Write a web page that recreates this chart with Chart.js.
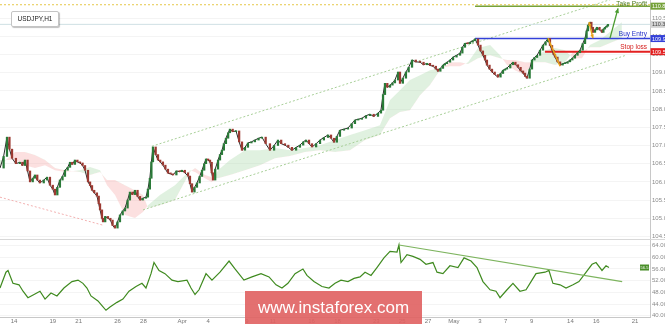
<!DOCTYPE html>
<html>
<head>
<meta charset="utf-8">
<script src="https://cdn.jsdelivr.net/npm/chart.js@4.4.1/dist/chart.umd.min.js"></script>
<style>
html, body { margin: 0; padding: 0; background: #fff; }
#wrap { position: relative; width: 665px; height: 324px; overflow: hidden; font-family: "Liberation Sans", Arial, sans-serif; }
#main { position: absolute; left: 0; top: 0; }
#osc { position: absolute; left: 0; top: 239px; }
#sep { position: absolute; left: 0; top: 239px; width: 665px; height: 1px; background: #d8d8d8; }
#title {
    position: absolute; left: 11px; top: 11px; width: 46px; height: 14px;
    border: 1px solid #c4c4c4; border-radius: 2px; background: #fff;
    box-shadow: 1px 1px 1px rgba(0,0,0,0.25);
    font-size: 6.5px; line-height: 14px; text-align: center; color: #222;
}
#wm {
    position: absolute; left: 245px; top: 291px; width: 177px; height: 33px;
    background: rgba(224, 96, 96, 0.9); color: #fff;
    font-size: 17px; line-height: 33px; text-align: center;
}
</style>
</head>
<body>
<div id="wrap">
    <canvas id="main" width="665" height="239"></canvas>
    <canvas id="osc" width="665" height="85"></canvas>
    <div id="sep"></div>
    <div id="title">USDJPY,H1</div>
    <div id="wm">www.instaforex.com</div>
</div>
<script>
// time axis is in trading days counted from 14 Mar (H1 chart)
const dayTicks  = [0, 3, 5, 8, 10, 13, 15, 18, 20, 23, 25, 28, 30, 32, 34, 36, 38, 40, 43, 45, 48];
const dayLabels = ['14', '19', '21', '26', '28', 'Apr', '4', '9', '11', '16', '18', '23', '25', '27', 'May', '3', '7', '9', '14', '16', '21'];
const priceTicks = [104.5, 105, 105.5, 106, 106.5, 107, 107.5, 108, 108.5, 109, 109.5, 110, 110.5];
const rsiTicks = [40, 44, 48, 52, 56, 60, 64];

// closing prices
const priceDays = [
    -1.08, -0.80, -0.54, -0.35, -0.15, 0.15, 0.46, 0.65, 0.85, 1.05,
    1.24, 1.45, 1.62, 1.80, 2.00, 2.30, 2.55, 2.78, 3.00, 3.17,
    3.35, 3.55, 3.75, 3.94, 4.15, 4.33, 4.50, 4.71, 4.90, 5.10,
    5.30, 5.49, 5.72, 5.88, 6.03, 6.20, 6.41, 6.55, 6.65, 6.80,
    6.88, 7.05, 7.26, 7.45, 7.62, 7.80, 8.00, 8.19, 8.40, 8.58,
    8.78, 8.96, 9.15, 9.35, 9.55, 9.74, 9.95, 10.20, 10.35, 10.50,
    10.62, 10.74, 10.95, 11.13, 11.30, 11.51, 11.70, 11.90, 12.10, 12.29,
    12.55, 12.80, 12.98, 13.20, 13.45, 13.60, 13.76, 13.95, 14.14, 14.35,
    14.53, 14.70, 14.84, 15.00, 15.15, 15.28, 15.38, 15.55, 15.77, 15.92,
    16.07, 16.22, 16.38, 16.55, 16.69, 16.90, 17.16, 17.40, 17.62, 17.85,
    18.08, 18.35, 18.62, 18.90, 19.16, 19.45, 19.78, 20.10, 20.40, 20.65,
    20.94, 21.20, 21.48, 21.80, 22.10, 22.35, 22.57, 22.80, 23.03, 23.35,
    23.65, 23.95, 24.27, 24.50, 24.73, 24.95, 25.19, 25.50, 25.81, 26.10,
    26.35, 26.60, 26.89, 27.20, 27.51, 27.80, 28.13, 28.36, 28.52, 28.67,
    28.85, 29.06, 29.25, 29.44, 29.68, 29.83, 30.05, 30.29, 30.50, 30.76,
    31.05, 31.38, 31.65, 31.92, 32.15, 32.38, 32.60, 32.77, 32.95, 33.15,
    33.30, 33.46, 33.70, 33.93, 34.20, 34.47, 34.65, 34.85, 35.05, 35.24,
    35.45, 35.63, 35.86, 36.05, 36.24, 36.40, 36.55, 36.75, 36.94, 37.15,
    37.40, 37.60, 37.79, 37.95, 38.10, 38.35, 38.56, 38.75, 38.95, 39.15,
    39.34, 39.50, 39.64, 39.85, 40.03, 40.22, 40.42, 40.65, 40.88, 41.08,
    41.27, 41.42, 41.58, 41.70, 41.81, 42.00, 42.20, 42.40, 42.58, 42.78,
    42.97, 43.15, 43.35, 43.55, 43.74, 43.95, 44.13, 44.25, 44.36, 44.51,
    44.62, 44.74, 44.90, 45.05, 45.25, 45.44, 45.55, 45.67, 45.80, 45.90
];
const priceClose = [
    106.38, 106.70, 107.23, 106.90, 106.65, 106.50, 106.54, 106.45, 106.60, 106.30,
    106.00, 106.10, 106.19, 106.05, 105.97, 106.05, 106.13, 105.91, 105.80, 105.64,
    105.85, 106.05, 106.15, 106.32, 106.40, 106.54, 106.48, 106.60, 106.55, 106.52,
    106.45, 106.32, 106.00, 105.90, 105.77, 105.70, 105.61, 105.40, 105.23, 105.00,
    104.90, 105.05, 105.00, 104.95, 104.80, 104.73, 104.90, 105.09, 105.20, 105.28,
    105.50, 105.72, 105.65, 105.77, 105.60, 105.50, 105.55, 105.58, 105.80, 106.10,
    106.55, 106.96, 106.75, 106.60, 106.55, 106.46, 106.35, 106.24, 106.22, 106.19,
    106.30, 106.28, 106.32, 106.25, 106.16, 105.95, 105.72, 105.85, 105.97, 106.15,
    106.32, 106.50, 106.63, 106.60, 106.54, 106.25, 106.05, 106.35, 106.60, 106.75,
    106.87, 107.05, 107.20, 107.35, 107.45, 107.38, 107.40, 107.10, 106.87, 106.95,
    107.07, 107.10, 107.15, 107.20, 107.23, 107.05, 106.87, 107.00, 107.15, 107.05,
    107.01, 106.95, 106.87, 106.95, 107.01, 107.10, 107.15, 107.05, 106.96, 107.05,
    107.15, 107.22, 107.29, 107.20, 107.09, 107.25, 107.42, 107.45, 107.48, 107.60,
    107.70, 107.72, 107.75, 107.82, 107.86, 107.80, 107.89, 107.97, 108.40, 108.71,
    108.60, 108.66, 108.72, 108.80, 109.02, 108.71, 108.85, 109.02, 109.15, 109.35,
    109.30, 109.29, 109.22, 109.26, 109.20, 109.18, 109.10, 109.04, 109.12, 109.21,
    109.25, 109.29, 109.35, 109.43, 109.48, 109.54, 109.70, 109.81, 109.80, 109.84,
    109.88, 109.93, 109.76, 109.60, 109.48, 109.35, 109.21, 109.10, 109.02, 108.95,
    108.88, 108.98, 109.07, 109.10, 109.13, 109.22, 109.29, 109.22, 109.15, 109.05,
    108.99, 108.90, 108.85, 109.10, 109.35, 109.42, 109.48, 109.62, 109.76, 109.85,
    109.94, 109.75, 109.62, 109.50, 109.43, 109.30, 109.21, 109.25, 109.26, 109.30,
    109.35, 109.40, 109.48, 109.55, 109.62, 109.80, 109.95, 110.15, 110.31, 110.39,
    110.25, 110.11, 110.18, 110.25, 110.18, 110.11, 110.20, 110.25, 110.28, 110.33
];

// ichimoku cloud (senkou span A / B)
const cloudDays = [
    -1.08, 0.08, 0.85, 1.62, 2.40, 3.17, 3.94, 5.10, 5.87, 6.65,
    7.19, 7.81, 8.58, 9.35, 9.97, 10.36, 11.28, 12.44, 13.60, 13.99,
    14.76, 15.30, 15.77, 16.69, 17.85, 19.01, 20.17, 21.33, 22.49, 23.65,
    24.81, 25.97, 27.13, 28.28, 29.06, 29.83, 30.60, 31.38, 32.15, 32.92,
    33.69, 34.47, 35.09, 35.86, 36.79, 37.56, 38.10, 38.72, 39.49, 40.11,
    41.04, 41.81, 42.58, 43.20, 43.89, 44.51, 45.29, 46.21, 46.98
];
const spanA = [
    106.60, 106.60, 106.46, 106.38, 106.46, 106.32, 106.27, 106.32, 106.41, 106.32,
    105.91, 105.64, 105.09, 105.01, 105.17, 105.36, 105.64, 105.91, 106.32, 106.27,
    106.10, 105.99, 106.32, 106.60, 106.87, 106.87, 106.93, 106.87, 106.93, 107.01,
    107.15, 107.29, 107.42, 107.56, 108.25, 108.52, 108.80, 108.93, 109.07, 109.13,
    109.18, 109.18, 109.29, 109.68, 109.76, 109.48, 109.21, 109.07, 108.93, 109.35,
    109.62, 109.68, 109.62, 109.40, 109.40, 109.76, 109.90, 110.17, 110.39
];
const spanB = [
    106.46, 106.82, 106.82, 106.74, 106.60, 106.38, 106.32, 106.27, 106.19, 106.27,
    106.05, 106.05, 105.91, 105.77, 105.64, 105.28, 105.36, 105.50, 106.27, 106.38,
    106.19, 106.13, 106.10, 106.19, 106.32, 106.46, 106.65, 106.71, 106.82, 106.87,
    106.82, 106.87, 107.15, 107.29, 107.75, 107.92, 107.97, 108.38, 108.66, 109.07,
    109.29, 109.29, 109.24, 109.40, 109.48, 109.40, 109.35, 109.35, 109.29, 109.29,
    109.29, 109.21, 109.29, 109.57, 109.57, 109.70, 109.70, 109.84, 109.95
];

// RSI
const rsiDays = [
    -1.08, -0.62, -0.46, -0.08, 0.39, 0.70, 1.08, 1.55, 2.01, 2.40,
    2.86, 3.32, 3.86, 4.48, 4.95, 5.33, 5.64, 5.95, 6.49, 6.80,
    7.11, 7.42, 7.96, 8.42, 8.89, 9.43, 9.89, 10.20, 10.59, 10.82,
    11.21, 11.67, 12.21, 12.67, 13.37, 13.68, 13.99, 14.30, 14.84, 15.30,
    15.92, 16.62, 17.08, 17.77, 18.39, 19.09, 19.71, 20.25, 20.71, 21.17,
    21.72, 22.33, 22.64, 23.18, 23.80, 24.34, 24.81, 25.27, 25.81, 26.28,
    26.74, 27.13, 27.59, 28.05, 28.59, 29.06, 29.60, 29.75, 29.91, 30.37,
    30.83, 31.38, 31.84, 32.38, 32.69, 33.15, 33.69, 34.31, 34.78, 35.32,
    35.78, 36.24, 36.79, 37.25, 37.56, 38.10, 38.56, 39.10, 39.57, 40.03,
    40.34, 41.04, 41.34, 41.65, 42.20, 42.66, 43.20, 43.66, 44.13, 44.67,
    44.98, 45.44, 45.75, 45.98
];
const rsiValues = [
    49.5, 54.9, 55.5, 51.1, 50.6, 48.4, 46.2, 47.3, 48.4, 45.7,
    47.8, 46.8, 49.5, 51.7, 52.2, 51.1, 49.5, 46.8, 45.1, 43.5,
    41.9, 43.0, 44.6, 45.7, 48.4, 50.0, 51.1, 49.5, 54.4, 58.2,
    55.5, 54.4, 52.2, 51.7, 52.2, 49.5, 47.3, 48.9, 54.4, 52.2,
    54.9, 58.7, 56.0, 52.2, 53.3, 54.4, 53.3, 50.6, 49.5, 51.1,
    54.4, 56.0, 53.8, 51.7, 50.0, 49.5, 51.1, 52.2, 51.7, 52.8,
    53.3, 54.9, 53.8, 56.5, 59.8, 62.0, 61.8, 64.2, 58.2, 60.9,
    60.3, 59.3, 57.6, 58.2, 54.9, 54.4, 57.1, 56.5, 59.8, 58.7,
    56.5, 51.7, 48.9, 48.4, 46.2, 48.9, 51.1, 48.4, 48.9, 52.2,
    54.4, 54.9, 55.5, 51.1, 50.6, 49.5, 50.6, 51.7, 54.4, 57.6,
    58.2, 55.5, 57.1, 56.5
];

// drawn objects: [day, price] end points
const channelUpper = [[10.66, 106.98], [49.15, 111.36]];
const channelLower = [[9.97, 105.23], [47.2, 109.47]];
const supportLine = [[-1.08, 105.58], [6.88, 104.81]];
const fibLeg1 = [[41.27, 109.95], [42.2, 109.18]];
const fibLeg2 = [[44.44, 110.39], [44.74, 109.95]];
const targetArrow = [[46.06, 109.95], [46.68, 110.77]];
const rsiTrend = [[29.75, 64.2], [47.0, 51.7]];

const levelNames = ['Take Profit', 'Buy Entry', 'Stop loss'];
const levelPrices = [110.83, 109.94, 109.58];
const levelStart = [35.63, 35.63, 41.04];
const topDotted = 110.87;
const lastPrice = 110.33;
const rsiLast = 56.5;

const X_MIN = -1.08, X_MAX = 49.15;
const levelColors = ['#76a23a', '#3340d8', '#e32020'];
const levelText = ['#4f7d22', '#2530c8', '#d41a1a'];

function pts(arr) {
    return arr.map(p => ({x: p[0], y: p[1]}));
}

function lineDs(data, color, width, dash, order) {
    return {
        type: 'line', data: data, borderColor: color, borderWidth: width,
        borderDash: dash || [], pointRadius: 0, fill: false, order: order
    };
}

const bodies = priceDays.slice(1).map((d, i) => ({x: d, y: [priceClose[i], priceClose[i + 1]]}));
const bodyColors = bodies.map(b => b.y[1] >= b.y[0] ? '#2a7a38' : '#9c3a32');

const mainSets = [
    {
        type: 'line', data: cloudDays.map((d, i) => ({x: d, y: spanA[i]})),
        borderWidth: 0, pointRadius: 0, order: 20,
        fill: {target: '+1', above: 'rgba(160, 212, 160, 0.32)', below: 'rgba(245, 160, 160, 0.32)'}
    },
    {
        type: 'line', data: cloudDays.map((d, i) => ({x: d, y: spanB[i]})),
        borderWidth: 0, pointRadius: 0, fill: false, order: 21
    },
    lineDs(pts(channelUpper), '#a8cf98', 1, [2, 2], 10),
    lineDs(pts(channelLower), '#a8cf98', 1, [2, 2], 10),
    lineDs(pts(supportLine), '#f2b0b0', 1, [2, 2], 10),
    lineDs(pts([[X_MIN, topDotted], [X_MAX, topDotted]]), '#e6c84a', 1, [2, 2], 9),
    lineDs(pts([[X_MIN, lastPrice], [X_MAX, lastPrice]]), '#cfe0e4', 1, [], 9),
    lineDs(pts([[levelStart[0], levelPrices[0]], [X_MAX, levelPrices[0]]]), levelColors[0], 1.5, [], 8),
    lineDs(pts([[levelStart[1], levelPrices[1]], [X_MAX, levelPrices[1]]]), levelColors[1], 1.5, [], 8),
    lineDs(pts([[levelStart[2], levelPrices[2]], [X_MAX, levelPrices[2]]]), levelColors[2], 2, [], 8),
    lineDs(priceDays.map((d, i) => ({x: d, y: priceClose[i]})), '#2b2b2b', 1, [], 3),
    {
        type: 'bar', data: bodies, backgroundColor: bodyColors,
        barThickness: 1.6, minBarLength: 1, order: 2
    },
    lineDs(pts(fibLeg1), '#e9a21a', 1.5, [], 1),
    lineDs(pts(fibLeg2), '#e9a21a', 1.5, [], 1),
    lineDs(pts(targetArrow), '#4a9b2f', 1.3, [], 1)
];

function arrowHead(ctx, x0, y0, x1, y1, color, size) {
    const a = Math.atan2(y1 - y0, x1 - x0);
    ctx.fillStyle = color;
    ctx.beginPath();
    ctx.moveTo(x1, y1);
    ctx.lineTo(x1 - size * Math.cos(a - 0.45), y1 - size * Math.sin(a - 0.45));
    ctx.lineTo(x1 - size * Math.cos(a + 0.45), y1 - size * Math.sin(a + 0.45));
    ctx.closePath();
    ctx.fill();
}

function priceBox(ctx, x, y, bg, fg, text) {
    ctx.fillStyle = bg;
    ctx.fillRect(x, y - 3.5, 665 - x, 7);
    ctx.fillStyle = fg;
    ctx.font = '5.5px "Liberation Sans", Arial';
    ctx.textAlign = 'left';
    ctx.textBaseline = 'middle';
    ctx.fillText(text, x + 1.5, y + 0.5);
}

const mainMarks = {
    id: 'mainMarks',
    afterDraw(chart) {
        const ctx = chart.ctx, xs = chart.scales.x, ys = chart.scales.y;
        const right = chart.chartArea.right;
        ctx.save();
        // arrow heads
        arrowHead(ctx, xs.getPixelForValue(targetArrow[0][0]), ys.getPixelForValue(targetArrow[0][1]),
            xs.getPixelForValue(targetArrow[1][0]), ys.getPixelForValue(targetArrow[1][1]), '#4a9b2f', 5);
        arrowHead(ctx, xs.getPixelForValue(fibLeg2[1][0]), ys.getPixelForValue(fibLeg2[1][1]),
            xs.getPixelForValue(fibLeg2[0][0]), ys.getPixelForValue(fibLeg2[0][1]), '#e9a21a', 4);
        arrowHead(ctx, xs.getPixelForValue(fibLeg2[0][0]), ys.getPixelForValue(fibLeg2[0][1]),
            xs.getPixelForValue(fibLeg2[1][0]), ys.getPixelForValue(fibLeg2[1][1]), '#e9a21a', 4);
        // level captions
        ctx.font = '6.5px "Liberation Sans", Arial';
        ctx.textAlign = 'right';
        ctx.textBaseline = 'bottom';
        levelNames.forEach((name, i) => {
            ctx.fillStyle = levelText[i];
            ctx.fillText(name, right - 3, Math.max(7, ys.getPixelForValue(levelPrices[i]) - 1.5));
        });
        // axis price boxes
        priceBox(ctx, right + 0.5, ys.getPixelForValue(levelPrices[0]), levelColors[0], '#fff', levelPrices[0].toFixed(3));
        priceBox(ctx, right + 0.5, ys.getPixelForValue(lastPrice), '#d3d3d3', '#444', lastPrice.toFixed(3));
        priceBox(ctx, right + 0.5, ys.getPixelForValue(levelPrices[1]), levelColors[1], '#fff', levelPrices[1].toFixed(3));
        priceBox(ctx, right + 0.5, ys.getPixelForValue(levelPrices[2]), levelColors[2], '#fff', levelPrices[2].toFixed(3));
        ctx.restore();
    }
};

const oscMarks = {
    id: 'oscMarks',
    afterDraw(chart) {
        const ctx = chart.ctx, ys = chart.scales.y;
        const right = chart.chartArea.right;
        const y = ys.getPixelForValue(rsiLast);
        ctx.save();
        ctx.fillStyle = '#4a8f2a';
        ctx.fillRect(right - 10, y - 3, 9, 6);
        ctx.fillStyle = '#fff';
        ctx.font = '4px "Liberation Sans", Arial';
        ctx.textAlign = 'center';
        ctx.textBaseline = 'middle';
        ctx.fillText(rsiLast.toFixed(1), right - 5.5, y + 0.3);
        ctx.restore();
    }
};

Chart.defaults.font.family = '"Liberation Sans", Arial, sans-serif';

new Chart(document.getElementById('main'), {
    type: 'line',
    data: {datasets: mainSets},
    options: {
        responsive: false,
        animation: false,
        layout: {padding: 0},
        plugins: {legend: {display: false}, tooltip: {enabled: false}},
        scales: {
            x: {type: 'linear', min: X_MIN, max: X_MAX, display: false, offset: false},
            y: {
                type: 'linear', position: 'right', min: 104.43, max: 111.0,
                afterBuildTicks: s => { s.ticks = priceTicks.map(v => ({value: v})); },
                afterFit: s => { s.width = 15; s.paddingTop = 0; s.paddingBottom = 0; },
                grid: {color: 'rgba(0,0,0,0.045)', drawTicks: false},
                border: {color: '#c8c8c8'},
                ticks: {font: {size: 6}, color: '#8a8a8a', padding: 2, callback: v => v.toFixed(3)}
            }
        }
    },
    plugins: [mainMarks]
});

new Chart(document.getElementById('osc'), {
    type: 'line',
    data: {
        datasets: [
            lineDs(rsiDays.map((d, i) => ({x: d, y: rsiValues[i]})), '#3f8a1f', 1.2, [], 2),
            lineDs(pts(rsiTrend), '#7db45e', 1.2, [], 1)
        ]
    },
    options: {
        responsive: false,
        animation: false,
        layout: {padding: {top: 1}},
        plugins: {legend: {display: false}, tooltip: {enabled: false}},
        scales: {
            x: {
                type: 'linear', min: X_MIN, max: X_MAX, offset: false,
                afterBuildTicks: s => { s.ticks = dayTicks.map(v => ({value: v})); },
                afterFit: s => { s.height = 7; s.paddingLeft = 0; s.paddingRight = 0; },
                grid: {display: false, drawTicks: false},
                border: {color: '#c8c8c8'},
                ticks: {font: {size: 6}, color: '#777', padding: 1, maxRotation: 0, autoSkip: false,
                    callback: (v, i) => dayLabels[i]}
            },
            y: {
                type: 'linear', position: 'right', min: 39.6, max: 65.9,
                afterBuildTicks: s => { s.ticks = rsiTicks.map(v => ({value: v})); },
                afterFit: s => { s.width = 15; s.paddingTop = 0; s.paddingBottom = 0; },
                grid: {color: 'rgba(0,0,0,0.045)', drawTicks: false},
                border: {color: '#c8c8c8'},
                ticks: {font: {size: 6}, color: '#8a8a8a', padding: 2, callback: v => v.toFixed(4)}
            }
        }
    },
    plugins: [oscMarks]
});
</script>
</body>
</html>
